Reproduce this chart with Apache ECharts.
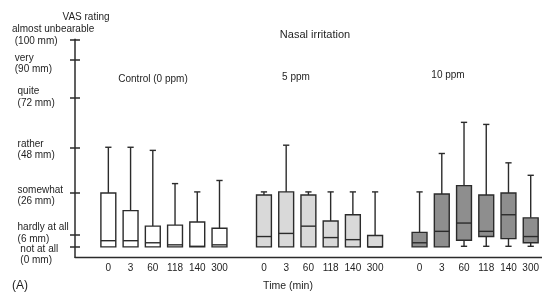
<!DOCTYPE html>
<html>
<head>
<meta charset="utf-8">
<title>Nasal irritation</title>
<script src="https://cdn.jsdelivr.net/npm/echarts@6/dist/echarts.min.js"></script>
<style>
  html, body { margin: 0; padding: 0; background: #fff; }
  #chart { width: 542px; height: 298px; }
</style>
</head>
<body>
<div id="chart"></div>
<script>
// time points (min) shown under each group
var timeLabels = ['0', '3', '60', '118', '140', '300'];
var groupNames = ['Control (0 ppm)', '5 ppm', '10 ppm'];

// VAS scale ticks
var vasValues = [0, 6, 26, 48, 72, 90, 100];
var vasWords = ['not at all', 'hardly at all', 'somewhat', 'rather', 'quite', 'very', 'almost unbearable'];

// boxes: [min, q1, median, q3, max] per time point
var controlBoxes = [
  [0, 0, 3, 26, 48],
  [0, 0, 3, 17.5, 48],
  [0, 0, 2, 10, 46.5],
  [0, 0, 1, 10.5, 30.5],
  [0, 0, 0.3, 12, 26.5],
  [0, 0, 1, 9, 32]
];
var ppm5Boxes = [
  [0, 0, 5, 25, 26.5],
  [0, 0, 6.5, 26.5, 49],
  [0, 0, 10, 25, 26.5],
  [0, 0, 4.5, 12.5, 26.5],
  [0, 0, 3.5, 15.5, 26.5],
  [0, 0, 0, 5.5, 26.5]
];
var ppm10Boxes = [
  [0, 0, 2, 7, 26.5],
  [0, 0, 7.5, 25.5, 45],
  [0.3, 3.2, 11.5, 29.5, 60],
  [0.3, 5, 7.5, 25, 59],
  [0.3, 4, 15.5, 26, 40.5],
  [0.3, 2, 5, 14, 34.5]
];

var fills = ['#ffffff', '#d9d9d9', '#8e8e8e'];
var ink = '#2b2b2b';
var txt = '#1e1e1e';
var font = 'Liberation Sans, Arial, sans-serif';

// category axis: an empty slot before each group
var categories = [];
var groups = [controlBoxes, ppm5Boxes, ppm10Boxes];
var seriesData = [];
groups.forEach(function (boxes, g) {
  categories.push('');
  var rows = [];
  boxes.forEach(function (b, i) {
    rows.push([categories.length].concat(b));
    categories.push(timeLabels[i]);
  });
  seriesData.push(rows);
});

function renderBox(fill) {
  return function (params, api) {
    var x = api.value(0);
    var pMin = api.coord([x, api.value(1)]);
    var pQ1 = api.coord([x, api.value(2)]);
    var pMed = api.coord([x, api.value(3)]);
    var pQ3 = api.coord([x, api.value(4)]);
    var pMax = api.coord([x, api.value(5)]);
    var bw = api.size([1, 0])[0] * 0.67;
    var cw = bw * 0.42;
    var cx = pMed[0];
    var lineStyle = { stroke: ink, lineWidth: 1.4 };
    var kids = [];
    if (api.value(5) > api.value(4)) {
      kids.push({ type: 'line', shape: { x1: cx, y1: pMax[1], x2: cx, y2: pQ3[1] }, style: lineStyle });
      kids.push({ type: 'line', shape: { x1: cx - cw / 2, y1: pMax[1], x2: cx + cw / 2, y2: pMax[1] }, style: lineStyle });
    }
    if (api.value(1) < api.value(2)) {
      kids.push({ type: 'line', shape: { x1: cx, y1: pMin[1], x2: cx, y2: pQ1[1] }, style: lineStyle });
      kids.push({ type: 'line', shape: { x1: cx - cw / 2, y1: pMin[1], x2: cx + cw / 2, y2: pMin[1] }, style: lineStyle });
    }
    kids.push({
      type: 'rect',
      shape: { x: cx - bw / 2, y: pQ3[1], width: bw, height: pQ1[1] - pQ3[1] },
      style: { fill: fill, stroke: ink, lineWidth: 1.4 }
    });
    kids.push({ type: 'line', shape: { x1: cx - bw / 2, y1: pMed[1], x2: cx + bw / 2, y2: pMed[1] }, style: lineStyle });
    return { type: 'group', children: kids };
  };
}

// two label sets on two stacked axes so neighbouring labels never collide
var labelsA = [0, 48, 90];
var labelsB = [6, 26, 72, 100];
// per label: [leading spaces line 1, line 2, vertical nudge in px]
var labelNudge = { 0: [3, 3, 8], 6: [2, 2, -1], 26: [2, 2, 3], 48: [2, 2, 2.5], 72: [2, 2, 0], 90: [1, 1, 3.5], 100: [0, 1, -4] };

var richStyles = { t: { fontSize: 10, lineHeight: 11.5, color: txt, fontFamily: font } };

function spaces(n) { return new Array(n + 1).join(' '); }

function vasLabel(v) {
  var i = vasValues.indexOf(v);
  if (i < 0) return '';
  var n = labelNudge[v];
  var body = '{t|' + spaces(n[0]) + vasWords[i] + '}\n{t|' + spaces(n[1]) + '(' + v + ' mm)}';
  var gap = Math.round(Math.abs(n[2]) * 2);
  if (!gap) return body;
  var key = 'g' + gap;
  richStyles[key] = { fontSize: 1, lineHeight: gap };
  return n[2] > 0 ? '{' + key + '| }\n' + body : body + '\n{' + key + '| }';
}

function labelOpts(values) {
  return {
    customValues: values,
    formatter: vasLabel,
    rich: richStyles,
    hideOverlap: false,
    align: 'left',
    margin: 63,
    fontSize: 10,
    color: txt,
    fontFamily: font
  };
}
// build the spacer styles before the option is read
vasValues.forEach(vasLabel);

var chart = echarts.init(document.getElementById('chart'));

var titleStyle = { fontFamily: font, fontWeight: 'normal', color: txt };
var titles = [
  { text: 'Nasal irritation', left: 315, top: 29, fontSize: 11 },
  { text: groupNames[0], left: 153, top: 74, fontSize: 10 },
  { text: groupNames[1], left: 296, top: 72, fontSize: 10 },
  { text: groupNames[2], left: 448, top: 70, fontSize: 10 },
  { text: 'Time (min)', left: 288, top: 281, fontSize: 10.5 },
  { text: '(A)', left: 20, top: 280, fontSize: 12 }
].map(function (t) {
  return {
    text: t.text, left: t.left, top: t.top, padding: 0, textAlign: 'center',
    textStyle: Object.assign({}, titleStyle, { fontSize: t.fontSize })
  };
});

var option = {
  animation: false,
  backgroundColor: '#fff',
  title: titles,
  grid: { left: 75, top: 39.3, width: 469, height: 218 },
  xAxis: {
    type: 'category',
    data: categories,
    boundaryGap: true,
    axisLine: { onZero: false, lineStyle: { color: ink, width: 1.4 } },
    axisTick: { alignWithLabel: true, interval: 0, length: 4, lineStyle: { color: ink, width: 1.2 } },
    axisLabel: { interval: 0, margin: 6, fontSize: 10, color: txt, fontFamily: font },
    splitLine: { show: false }
  },
  yAxis: [
    {
      type: 'value',
      min: -5,
      max: 100,
      name: 'VAS rating',
      nameLocation: 'end',
      nameGap: 17,
      nameTextStyle: { fontSize: 10, color: txt, fontFamily: font, align: 'center', padding: [0, 0, 0, 22] },
      axisLine: { show: true, onZero: false, lineStyle: { color: ink, width: 1.5 } },
      axisTick: { show: true, customValues: vasValues, length: 5, lineStyle: { color: ink, width: 1.5 } },
      axisLabel: labelOpts(labelsA),
      splitLine: { show: false }
    },
    {
      type: 'value',
      min: -5,
      max: 100,
      position: 'left',
      offset: 0,
      axisLine: { show: false, onZero: false },
      axisTick: { show: true, inside: true, customValues: vasValues, length: 5, lineStyle: { color: ink, width: 1.5 } },
      axisLabel: labelOpts(labelsB),
      splitLine: { show: false }
    }
  ],
  series: seriesData.map(function (rows, g) {
    return {
      type: 'custom',
      name: groupNames[g],
      renderItem: renderBox(fills[g]),
      encode: { x: 0, y: [1, 2, 3, 4, 5] },
      data: rows
    };
  })
};

chart.setOption(option);
</script>
</body>
</html>
